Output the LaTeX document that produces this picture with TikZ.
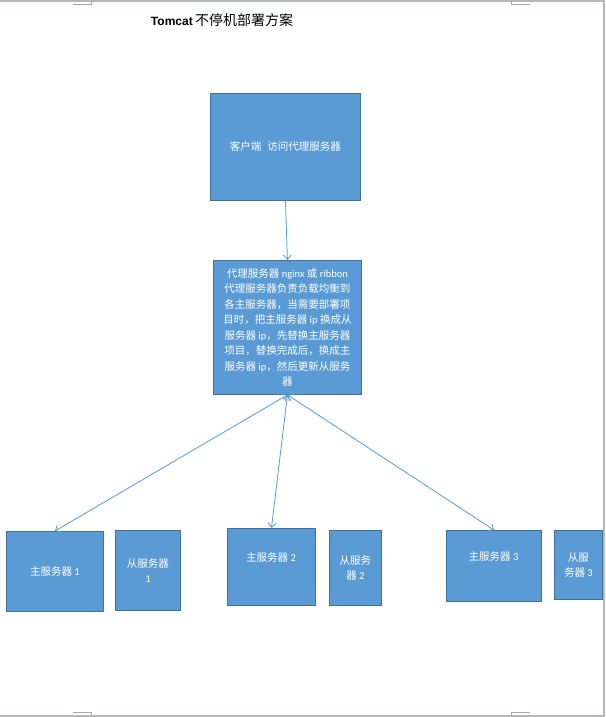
\documentclass[tikz,border=0pt]{standalone}
\usepackage{fontspec}
\setmainfont{Carlito}
\newfontfamily\cjk{Noto Sans CJK SC}
\newfontfamily\arialfont{Liberation Sans}
\usetikzlibrary{arrows.meta}
\definecolor{boxfill}{HTML}{5B9BD5}
\definecolor{boxline}{HTML}{41719C}
\definecolor{arrowc}{HTML}{5B9BD5}
\definecolor{pagegray}{HTML}{B4B7BE}
\definecolor{markgray}{HTML}{A6A6A6}
\newcommand\zh[1]{{\cjk #1}}
\tikzset{
  box/.style={draw=boxline, fill=boxfill, line width=0.9pt, inner sep=0pt, anchor=north west,
    text=white, align=center, font=\fontsize{10.5}{15.5}\selectfont},
  txt/.style={text=white, align=center, inner sep=0pt, font=\fontsize{10.5}{15.5}\selectfont},
  conn/.style={draw=arrowc, line width=0.8pt},
  tip/.tip={Straight Barb[length=4.5pt,width=8pt,line width=0.8pt]},
  pageedge/.style={draw=pagegray, line width=2pt},
  cornermark/.style={draw=markgray, line width=0.9pt}
}
\begin{document}
\begin{tikzpicture}[x=1pt,y=-1pt]
\useasboundingbox (0,0) rectangle (605,717);
\fill[white] (0,0) rectangle (605,717);
% page edges and corner marks
\draw[pageedge] (0,1) -- (604,1) -- (604,716) -- (0,716);
\draw[cornermark] (73,4) -- (91,4) -- (91,1);
\draw[cornermark] (511,1) -- (511,4) -- (530,4);
\draw[cornermark] (73,712) -- (91,712) -- (91,715);
\draw[cornermark] (511,715) -- (511,712) -- (530,712);
% title
\node[inner sep=0pt] (title) at (222,20) {{\arialfont\bfseries\fontsize{12}{14}\selectfont Tomcat} {\cjk\fontsize{14}{16}\selectfont 不停机部署方案}};
% boxes
\node[box, minimum width=150pt, minimum height=107pt] (client) at (210,93) {\zh{客户端}\hspace{6pt}\zh{访问代理服务器}};
\node[box, minimum width=148pt, minimum height=134pt] (proxy) at (213,260) {%
\zh{代理服务器} nginx \zh{或} ribbon\\
\zh{代理服务器负责负载均衡到}\\
\zh{各主服务器，当需要部署项}\\
\zh{目时，把主服务器} ip \zh{换成从}\\
\zh{服务器} ip\zh{，先替换主服务器}\\
\zh{项目，替换完成后，换成主}\\
\zh{服务器} ip\zh{，然后更新从服务}\\
\zh{器}};
\node[box, minimum width=97pt, minimum height=80pt] (m1) at (6,531) {\zh{主服务器} 1};
\node[box, minimum width=65pt, minimum height=80pt] (s1) at (115,530) {\zh{从服务器}\\1};
\node[box, minimum width=88pt, minimum height=77pt] (m2) at (227,528) {};
\node[txt] (m2t) at (271,558) {\zh{主服务器} 2};
\node[box, minimum width=52pt, minimum height=75pt] (s2) at (329,530) {\zh{从服务}\\\zh{器} 2};
\node[box, minimum width=95pt, minimum height=71pt] (m3) at (446,530) {};
\node[txt] (m3t) at (493.5,557) {\zh{主服务器} 3};
\node[box, minimum width=48pt, minimum height=69pt] (s3) at (554,530) {\zh{从服}\\\zh{务器} 3};
% connectors
\draw[conn, -tip] (client.south) -- (proxy.north);
\draw[conn, tip-tip] (proxy.south) -- (m1.north);
\draw[conn, tip-tip] (proxy.south) -- (m2.north);
\draw[conn, tip-tip] (proxy.south) -- (m3.north);
\end{tikzpicture}
\end{document}
